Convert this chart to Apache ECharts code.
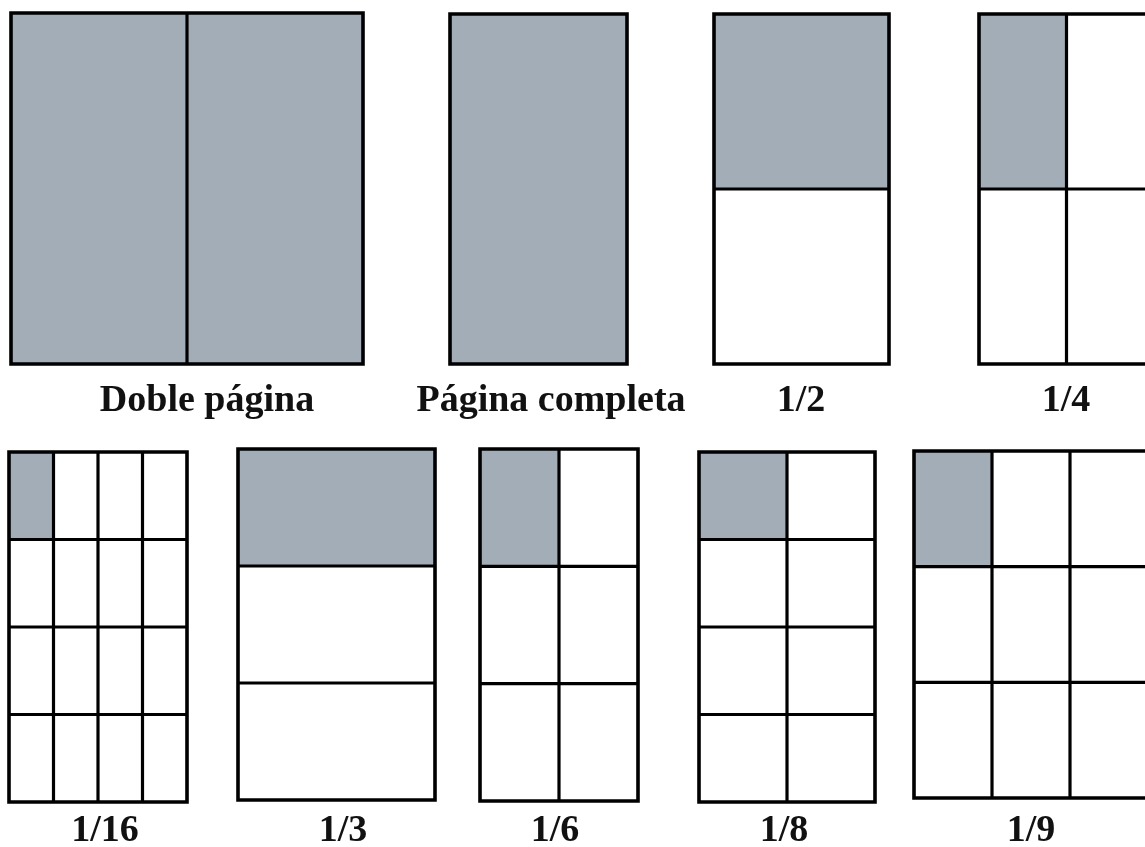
<!DOCTYPE html>
<html>
<head>
<meta charset="utf-8">
<script src="https://cdn.jsdelivr.net/npm/echarts@6/dist/echarts.min.js"></script>
<style>
html,body{margin:0;padding:0;background:#fff;}
#chart{width:1145px;height:847px;}
</style>
</head>
<body>
<div id="chart"></div>
<script>
// ---- data ----
const labels = ['Doble página', 'Página completa', '1/2', '1/4', '1/16', '1/3', '1/6', '1/8', '1/9'];
const gridCols = [2, 1, 1, 2, 4, 1, 2, 2, 3];
const gridRows = [1, 1, 2, 2, 4, 3, 3, 4, 3];
const shadedCols = [2, 1, 1, 1, 1, 1, 1, 1, 1];
const shadedRows = [1, 1, 1, 1, 1, 1, 1, 1, 1];

// ---- layout (drawing space coordinates: x0, y0, x1, y1, labelX, labelY) ----
const layout = [
  [11, 13, 363, 364, 207, 401],
  [450, 14, 627, 364, 551, 401],
  [714, 14, 889, 364, 801, 401],
  [979, 14, 1154, 364, 1066, 401],
  [9, 452, 187, 802, 105, 831],
  [238, 449, 435, 800, 343, 831],
  [480, 449, 638, 801, 555, 831],
  [699, 452, 875, 802, 784, 831],
  [914, 451, 1148, 798, 1031, 831]
];

const FILL = '#a2adb7';
const LINE = '#000';

const chart = echarts.init(document.getElementById('chart'));
chart.setOption({
  backgroundColor: '#fff',
  animation: false,
  grid: {left: 0, right: 0, top: 0, bottom: 0},
  xAxis: {type: 'value', min: 0, max: 1145, show: false},
  yAxis: {type: 'value', min: 0, max: 847, inverse: true, show: false},
  series: [{
    type: 'custom',
    clip: false,
    data: labels.map((l, i) => [i]),
    renderItem: function (params, api) {
      const i = api.value(0);
      const L = layout[i];
      const a = api.coord([L[0], L[1]]);
      const b = api.coord([L[2], L[3]]);
      const w = b[0] - a[0], h = b[1] - a[1];
      const cw = w / gridCols[i], ch = h / gridRows[i];
      const children = [];
      children.push({
        type: 'rect',
        shape: {x: a[0], y: a[1], width: cw * shadedCols[i], height: ch * shadedRows[i]},
        style: {fill: FILL}
      });
      for (let c = 1; c < gridCols[i]; c++) {
        const x = a[0] + cw * c;
        children.push({type: 'line', shape: {x1: x, y1: a[1], x2: x, y2: b[1]},
          style: {stroke: LINE, lineWidth: 3.2}});
      }
      for (let r = 1; r < gridRows[i]; r++) {
        const y = a[1] + ch * r;
        children.push({type: 'line', shape: {x1: a[0], y1: y, x2: b[0], y2: y},
          style: {stroke: LINE, lineWidth: 3.2}});
      }
      children.push({
        type: 'rect',
        shape: {x: a[0], y: a[1], width: w, height: h},
        style: {fill: 'none', stroke: LINE, lineWidth: 3.6, lineJoin: 'miter'}
      });
      const t = api.coord([L[4], L[5]]);
      children.push({
        type: 'text',
        style: {
          text: labels[i], x: t[0], y: t[1],
          align: 'center', verticalAlign: 'middle',
          font: 'bold 38px "Liberation Serif", "DejaVu Serif", serif',
          fill: '#111'
        }
      });
      return {type: 'group', children: children};
    }
  }]
});
</script>
</body>
</html>
